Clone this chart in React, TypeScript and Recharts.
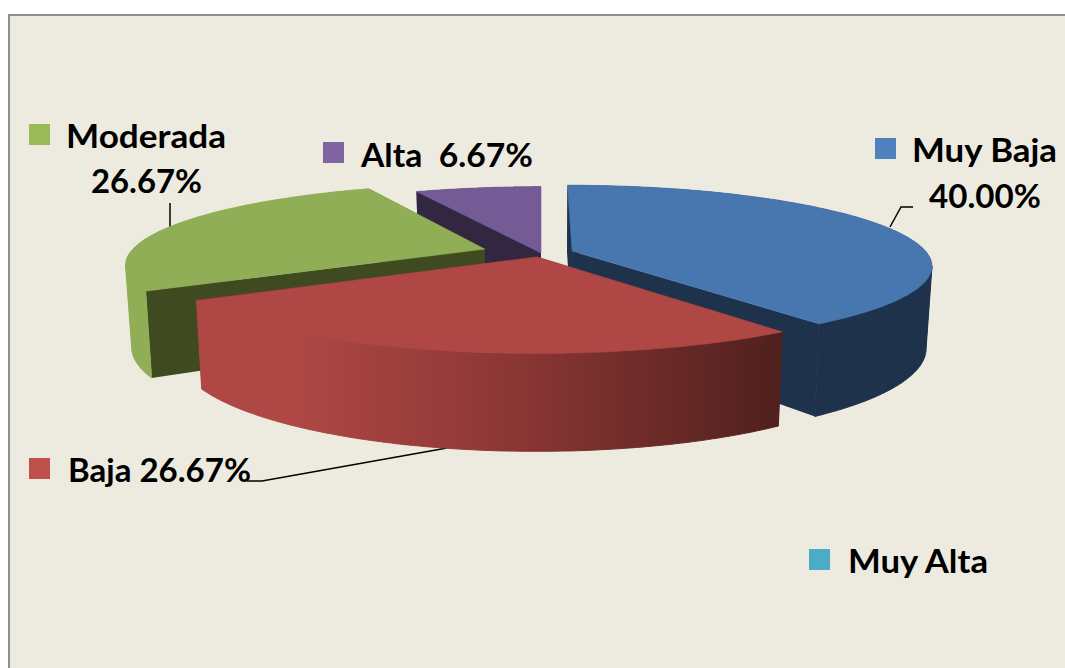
import React from "react";
import { PieChart, Pie } from "recharts";

const categories = ["Muy Baja", "Baja", "Moderada", "Alta", "Muy Alta"];
const shares = [40.0, 26.67, 26.67, 6.67, 0];
const legendColors = ["#4f81bd", "#c0504d", "#9bbb59", "#8064a2", "#4bacc6"];

// slice look: top face, cut faces, outer wall
const topColors = ["#4877b0", "#af4845", "#8fae55", "#755b96", "#4bacc6"];
const cutColors = ["#1e324c", "#4f201e", "#3f4a20", "#332641", "#1f4a55"];
const wallColors = ["#1e324c", "url(#redWall)", "#8fae55", "#332641", "#1f4a55"];

// how far each slice was pulled from the middle, in pie radii
const pullX = [0.088, -0.011, -0.16, 0, 0];
const pullY = [-0.026, 0.05, -0.05, 0, 0];

// back to front
const paintOrder = [3, 2, 0, 1];

const data = categories.map((name, i) => ({ name, value: shares[i], idx: i }));

// perspective of the tilted disc
const CX = 541;
const CY = 253;
const RX = 355;
const RY = 78;
const PERSP = 0.175;
const DEPTH = 80;
const SHRINK = 0.985;

type Pt = [number, number];

function project(u: number, v: number, down: boolean): Pt {
  const w = 1 - PERSP * v;
  const x = (RX * u) / w;
  const y = CY + (RY * v) / w + (down ? DEPTH / w : 0);
  return [CX + x * (down ? SHRINK : 1), y];
}

function toPath(points: Pt[]) {
  return "M" + points.map((p) => `${p[0].toFixed(1)},${p[1].toFixed(1)}`).join("L") + "Z";
}

// cut the rim where it turns round in x, a single strip would cancel itself there
function monotonicRuns(top: Pt[]) {
  const runs: [number, number][] = [];
  let from = 0;
  for (let s = 1; s < top.length - 1; s++) {
    const a = top[s][0] - top[s - 1][0];
    const b = top[s + 1][0] - top[s][0];
    if (a * b < 0) {
      runs.push([from, s]);
      from = s;
    }
  }
  runs.push([from, top.length - 1]);
  return runs;
}

function Wedge(props: any) {
  const entry = props.payload ?? props;
  const i: number = entry.idx;
  // recharts angles run counter-clockwise from 3 o'clock
  const a0 = 90 - props.startAngle;
  const a1 = 90 - props.endAngle;
  const du = pullX[i];
  const dv = pullY[i];
  const steps = 120;
  const rim: Pt[] = [];
  for (let s = 0; s <= steps; s++) {
    const t = ((a0 + ((a1 - a0) * s) / steps) * Math.PI) / 180;
    rim.push([du + Math.sin(t), dv - Math.cos(t)]);
  }
  const top = rim.map((p) => project(p[0], p[1], false));
  const bottom = rim.map((p) => project(p[0], p[1], true));
  const apexTop = project(du, dv, false);
  const apexBottom = project(du, dv, true);
  const last = steps;

  const runs = monotonicRuns(top);
  const isFront = (run: [number, number]) => rim[Math.round((run[0] + run[1]) / 2)][1] - dv > 0;
  const strip = (run: [number, number], width: number) => (
    <path
      key={run[0]}
      d={toPath([...top.slice(run[0], run[1] + 1), ...bottom.slice(run[0], run[1] + 1).reverse()])}
      fill={wallColors[i]}
      stroke={wallColors[i]}
      strokeWidth={width}
    />
  );

  return (
    <g>
      {runs.filter((r) => !isFront(r)).map((r) => strip(r, 0))}
      <path d={toPath([apexTop, top[0], bottom[0], apexBottom])} fill={cutColors[i]} />
      <path d={toPath([apexTop, top[last], bottom[last], apexBottom])} fill={cutColors[i]} />
      {runs.filter(isFront).map((r) => strip(r, 1))}
      <path d={toPath([apexTop, ...top])} fill={topColors[i]} stroke={topColors[i]} strokeWidth={0.6} />
    </g>
  );
}

const sliceShape = (only: number) => (props: any) => {
  const entry = props.payload ?? props;
  return entry.idx === only ? <Wedge {...props} /> : <g />;
};

const labelFont = { fontFamily: "Lato, sans-serif", fontWeight: 700, fontSize: 32, fill: "#000" };

const pct = (i: number) => `${shares[i].toFixed(2)}%`;

function Label({ x, y, w, text }: { x: number; y: number; w: number; text: string }) {
  return (
    <text x={x} y={y} textLength={w} lengthAdjust="spacingAndGlyphs" style={labelFont} xmlSpace="preserve">
      {text}
    </text>
  );
}

function Swatch({ x, y, i }: { x: number; y: number; i: number }) {
  return <rect x={x} y={y} width={21} height={21} fill={legendColors[i]} />;
}

export default function App() {
  return (
    <div style={{ position: "absolute", left: 0, top: 0, width: 1065, height: 668, overflow: "hidden", background: "#fff" }}>
      <div
        style={{
          position: "absolute",
          left: 8,
          top: 14,
          width: 1200,
          height: 800,
          background: "#edebe0",
          borderLeft: "2px solid #8f8f8f",
          borderTop: "2px solid #8f8f8f",
        }}
      />
      <div style={{ position: "absolute", left: 0, top: 0 }}>
        <PieChart width={1065} height={668} margin={{ top: 0, right: 0, bottom: 0, left: 0 }}>
          <defs>
            <linearGradient id="redWall" gradientUnits="userSpaceOnUse" x1={196} y1={0} x2={783} y2={0}>
              <stop offset="0.16" stopColor="#af4845" />
              <stop offset="0.55" stopColor="#8a3634" />
              <stop offset="1" stopColor="#4f201e" />
            </linearGradient>
          </defs>
          {paintOrder.map((i) => (
            <Pie
              key={categories[i]}
              data={data}
              dataKey="value"
              nameKey="name"
              cx={CX}
              cy={CY}
              outerRadius={100}
              startAngle={90}
              endAngle={-270}
              stroke="none"
              isAnimationActive={false}
              shape={sliceShape(i)}
            />
          ))}
          <polyline points="170,203 170,227" fill="none" stroke="#000" strokeWidth={1.5} />
          <polyline points="890,227 901,207 913,207" fill="none" stroke="#000" strokeWidth={1.5} />
          <polyline points="247,481 262,481 447,448" fill="none" stroke="#000" strokeWidth={1.5} />

          <Swatch x={875} y={138} i={0} />
          <Label x={912} y={162} w={145} text={categories[0]} />
          <Label x={929} y={208} w={112} text={pct(0)} />

          <Swatch x={29} y={458} i={1} />
          <Label x={68} y={482} w={183} text={`${categories[1]} ${pct(1)}`} />

          <Swatch x={29} y={124} i={2} />
          <Label x={66} y={148} w={160} text={categories[2]} />
          <Label x={91} y={193} w={111} text={pct(2)} />

          <Swatch x={323} y={142} i={3} />
          <Label x={361} y={167} w={172} text={`${categories[3]}  ${pct(3)}`} />

          <Swatch x={809} y={549} i={4} />
          <Label x={848} y={573} w={140} text={categories[4]} />
        </PieChart>
      </div>
    </div>
  );
}
